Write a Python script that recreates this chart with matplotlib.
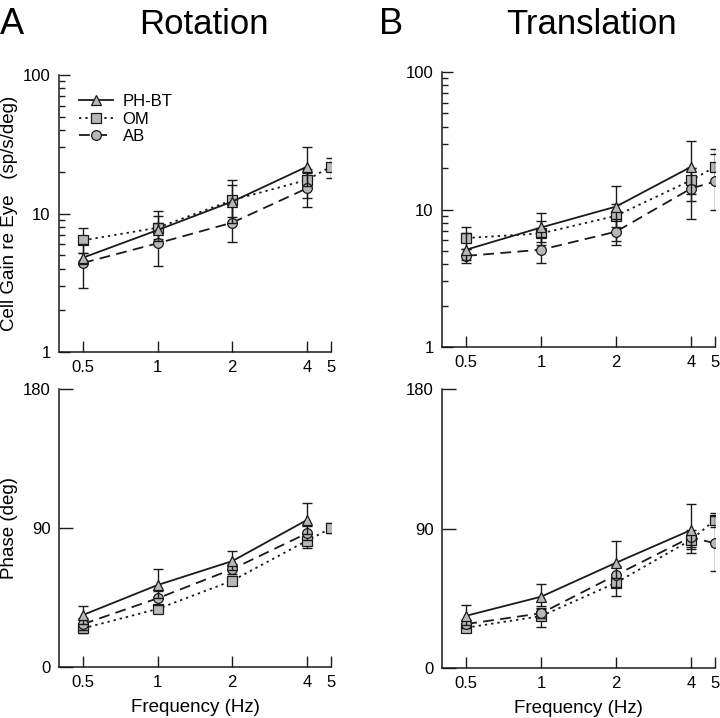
import matplotlib
matplotlib.use("Agg")
import matplotlib.pyplot as plt
from matplotlib.ticker import FixedLocator, NullFormatter, LogLocator, NullLocator

plt.rcParams['font.family'] = ['Liberation Sans', 'DejaVu Sans']

freqs4 = [0.5, 1, 2, 4]
freqs5 = [0.5, 1, 2, 4, 5]
xtick_vals = [0.5, 1, 2, 4, 5]
xtick_labels = ['0.5', '1', '2', '4', '5']

# Rotation gain (sp/s/deg)
rot_gain_ph = [4.8, 7.6, 12.2, 21.8]
rot_gain_ph_lo = [4.3, 6.3, 8.5, 15.8]
rot_gain_ph_hi = [5.2, 10.5, 17.5, 30.0]
rot_gain_om = [6.4, 7.9, 12.5, 17.5, 21.8]
rot_gain_om_lo = [5.2, 6.5, 9.5, 13.0, 18.1]
rot_gain_om_hi = [7.9, 9.6, 16.0, 21.0, 25.3]
rot_gain_ab = [4.4, 6.1, 8.6, 15.2]
rot_gain_ab_lo = [2.9, 4.2, 6.2, 11.2]
rot_gain_ab_hi = [6.0, 8.5, 11.5, 19.5]

# Translation gain
tra_gain_ph = [5.1, 7.4, 10.5, 20.4]
tra_gain_ph_lo = [4.3, 5.8, 7.5, 13.0]
tra_gain_ph_hi = [6.8, 9.5, 14.8, 31.6]
tra_gain_om = [6.2, 6.7, 9.0, 16.3, 20.4]
tra_gain_om_lo = [5.2, 5.5, 5.9, 11.6, 16.0]
tra_gain_om_hi = [7.4, 8.2, 11.0, 20.0, 25.5]
tra_gain_ab = [4.6, 5.1, 6.9, 14.2, 16.0]
tra_gain_ab_lo = [4.1, 4.1, 5.5, 8.6, 10.0]
tra_gain_ab_hi = [5.2, 6.3, 8.6, 20.0, 27.7]

# Rotation phase (deg)
rot_phase_ph = [33.7, 53.1, 68.6, 95.2]
rot_phase_ph_lo = [28, 45, 63, 86]
rot_phase_ph_hi = [39.7, 63.2, 75.3, 106.3]
rot_phase_om = [25.0, 37.6, 55.9, 81.8, 89.8]
rot_phase_om_lo = [22, 35, 53, 76.8, 86.6]
rot_phase_om_hi = [28, 40, 59, 86, 93]
rot_phase_ab = [27.8, 44.5, 63.4, 86.6]
rot_phase_ab_lo = [24, 40, 60, 82]
rot_phase_ab_hi = [32, 49, 67, 91]

# Translation phase
tra_phase_ph = [33.7, 46.0, 67.9, 89.0]
tra_phase_ph_lo = [28, 40, 58, 78]
tra_phase_ph_hi = [40.6, 54.2, 81.9, 105.6]
tra_phase_om = [26.0, 33.5, 55.0, 82.6, 95.5]
tra_phase_om_lo = [23, 26.6, 46.5, 74.4, 91]
tra_phase_om_hi = [29, 38, 60, 86, 100.2]
tra_phase_ab = [28.4, 35.3, 60.0, 84.4, 80.4]
tra_phase_ab_lo = [26, 32, 52, 77, 62.6]
tra_phase_ab_hi = [31, 39, 66, 89, 98]

gray = '#b8b8b8'
ink = '#1a1a1a'
styles = {
    'PH-BT': dict(marker='^', ls='-', ms=7.5),
    'OM': dict(marker='s', ls=(0, (1.3, 2.2)), ms=6.5),
    'AB': dict(marker='o', ls=(0, (6, 3.5)), ms=7),
}


def draw_series(ax, x, y, lo, hi, name, z):
    st = styles[name]
    yerr = [[v - l for v, l in zip(y, lo)], [h - v for v, h in zip(y, hi)]]
    ax.errorbar(x, y, yerr=yerr, fmt='none', ecolor=ink, elinewidth=1.0,
                capsize=3.5, capthick=1.0, zorder=z)
    ax.plot(x, y, color=ink, lw=1.3, ls=st['ls'], marker=st['marker'], ms=st['ms'],
            mfc=gray, mec=ink, mew=0.9, label=name, zorder=z + 0.5)


def style_axes(ax):
    ax.spines['top'].set_visible(False)
    ax.spines['right'].set_visible(False)
    ax.set_xscale('log')
    ax.set_xlim(0.4, 5)
    ax.xaxis.set_major_locator(FixedLocator(xtick_vals))
    ax.set_xticklabels(xtick_labels)
    ax.xaxis.set_minor_locator(NullLocator())
    ax.tick_params(axis='both', which='major', direction='in', length=8, width=1,
                   labelsize=12, pad=6, color=ink)
    ax.tick_params(axis='both', which='minor', direction='in', length=4, width=1, color=ink)
    for s in ['left', 'bottom']:
        ax.spines[s].set_linewidth(1.1)
        ax.spines[s].set_color(ink)


fig = plt.figure(figsize=(7.2, 7.18), dpi=100)
ax_rg = fig.add_axes([0.0819, 0.5097, 0.3778, 0.3858])
ax_rp = fig.add_axes([0.0819, 0.0710, 0.3778, 0.3872])
ax_tg = fig.add_axes([0.6139, 0.5167, 0.3792, 0.3830])
ax_tp = fig.add_axes([0.6139, 0.0696, 0.3792, 0.3886])

# gain panels
for ax, data in [(ax_rg, (rot_gain_ph, rot_gain_ph_lo, rot_gain_ph_hi, rot_gain_om, rot_gain_om_lo,
                          rot_gain_om_hi, rot_gain_ab, rot_gain_ab_lo, rot_gain_ab_hi, freqs4)),
                 (ax_tg, (tra_gain_ph, tra_gain_ph_lo, tra_gain_ph_hi, tra_gain_om, tra_gain_om_lo,
                          tra_gain_om_hi, tra_gain_ab, tra_gain_ab_lo, tra_gain_ab_hi, freqs5))]:
    ph, phl, phh, om, oml, omh, ab, abl, abh, fab = data
    draw_series(ax, freqs5, om, oml, omh, 'OM', 2)
    draw_series(ax, fab, ab, abl, abh, 'AB', 3)
    draw_series(ax, freqs4, ph, phl, phh, 'PH-BT', 4)
    style_axes(ax)
    ax.set_yscale('log')
    ax.set_ylim(1, 100)
    ax.yaxis.set_major_locator(FixedLocator([1, 10, 100]))
    ax.set_yticklabels(['1', '10', '100'])
    ax.yaxis.set_minor_locator(LogLocator(base=10, subs=range(2, 10)))
    ax.yaxis.set_minor_formatter(NullFormatter())

# phase panels
for ax, data in [(ax_rp, (rot_phase_ph, rot_phase_ph_lo, rot_phase_ph_hi, rot_phase_om, rot_phase_om_lo,
                          rot_phase_om_hi, rot_phase_ab, rot_phase_ab_lo, rot_phase_ab_hi, freqs4)),
                 (ax_tp, (tra_phase_ph, tra_phase_ph_lo, tra_phase_ph_hi, tra_phase_om, tra_phase_om_lo,
                          tra_phase_om_hi, tra_phase_ab, tra_phase_ab_lo, tra_phase_ab_hi, freqs5))]:
    ph, phl, phh, om, oml, omh, ab, abl, abh, fab = data
    draw_series(ax, freqs5, om, oml, omh, 'OM', 2)
    draw_series(ax, fab, ab, abl, abh, 'AB', 3)
    draw_series(ax, freqs4, ph, phl, phh, 'PH-BT', 4)
    style_axes(ax)
    ax.set_ylim(0, 180)
    ax.yaxis.set_major_locator(FixedLocator([0, 90, 180]))
    ax.set_yticklabels(['0', '90', '180'])
    ax.tick_params(axis='y', which='major', length=10)
    ax.set_xlabel('Frequency (Hz)', fontsize=13.5, labelpad=6)

ax_rg.set_ylabel('Cell Gain re Eye   (sp/s/deg)', fontsize=13.5)
ax_rg.yaxis.set_label_coords(-0.15, 0.5)
ax_rp.set_ylabel('Phase (deg)', fontsize=13.5)
ax_rp.yaxis.set_label_coords(-0.15, 0.5)

handles, labels = ax_rg.get_legend_handles_labels()
order = [labels.index(n) for n in ['PH-BT', 'OM', 'AB']]
ax_rg.legend([handles[i] for i in order], [labels[i] for i in order], loc='upper left',
             bbox_to_anchor=(0.05, 0.955), frameon=False, fontsize=12, handlelength=2.0,
             handletextpad=0.6, labelspacing=0.15, borderaxespad=0)

fig.text(0.0, 0.966, 'A', fontsize=26, va='center', ha='left')
fig.text(0.283, 0.966, 'Rotation', fontsize=25, va='center', ha='center')
fig.text(0.527, 0.966, 'B', fontsize=26, va='center', ha='left')
fig.text(0.821, 0.966, 'Translation', fontsize=25, va='center', ha='center')

fig.savefig('out.png', dpi=100)
